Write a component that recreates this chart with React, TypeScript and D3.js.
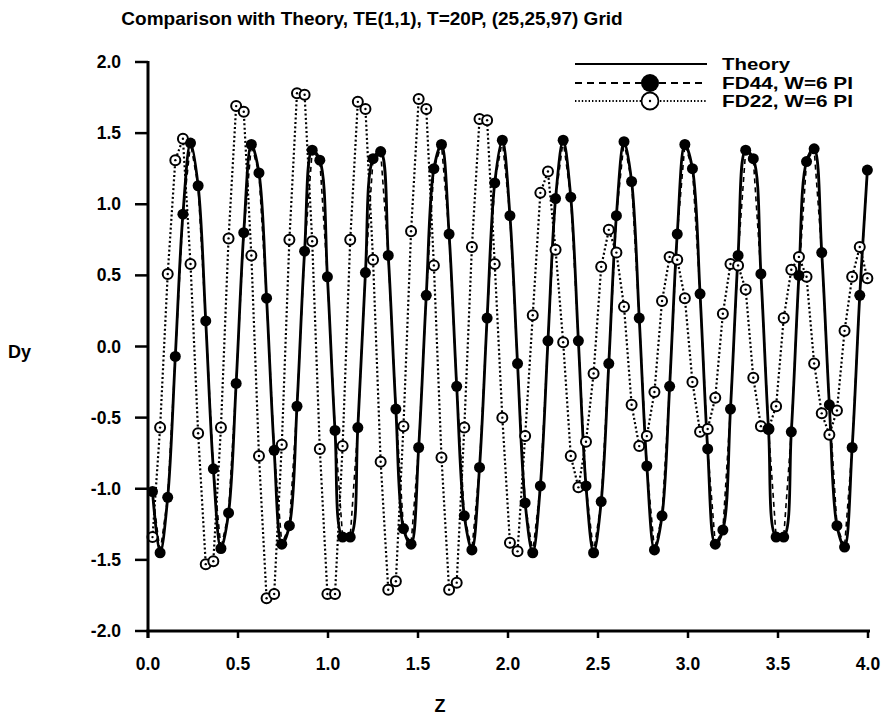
import React from "react";
import * as d3 from "d3";

// Z grid of the finite-difference samples
const Z0 = 0.025;
const DZ = 0.04225;

// Theory curve (read at the sample locations)
const THEORY = [
  -1.02, -1.45, -1.06, -0.07, 0.93, 1.43, 1.13, 0.18, -0.86, -1.42,
  -1.17, -0.26, 0.80, 1.42, 1.22, 0.34, -0.73, -1.39, -1.26, -0.42,
  0.67, 1.38, 1.31, 0.49, -0.59, -1.34, -1.34, -0.57, 0.52, 1.32,
  1.37, 0.64, -0.44, -1.28, -1.39, -0.71, 0.36, 1.25, 1.42, 0.79,
  -0.28, -1.19, -1.43, -0.85, 0.20, 1.15, 1.45, 0.92, -0.12, -1.10,
  -1.45, -0.98, 0.04, 1.04, 1.45, 1.05, 0.04, -0.98, -1.45, -1.09,
  -0.12, 0.92, 1.44, 1.16, 0.20, -0.84, -1.43, -1.19, -0.28, 0.79,
  1.42, 1.25, 0.37, -0.72, -1.39, -1.29, -0.44, 0.64, 1.38, 1.32,
  0.51, -0.58, -1.34, -1.34, -0.60, 0.50, 1.30, 1.39, 0.66, -0.41,
  -1.26, -1.41, -0.71, 0.36, 1.24,
];

// FD44, W=6 PI (filled circles)
const FD44 = [
  -1.02, -1.45, -1.06, -0.07, 0.93, 1.43, 1.13, 0.18, -0.86, -1.42,
  -1.17, -0.26, 0.80, 1.42, 1.22, 0.34, -0.73, -1.39, -1.26, -0.42,
  0.67, 1.38, 1.31, 0.49, -0.59, -1.34, -1.34, -0.57, 0.52, 1.32,
  1.37, 0.64, -0.44, -1.28, -1.39, -0.71, 0.36, 1.25, 1.42, 0.79,
  -0.28, -1.19, -1.43, -0.85, 0.20, 1.15, 1.45, 0.92, -0.12, -1.10,
  -1.45, -0.98, 0.04, 1.04, 1.45, 1.05, 0.04, -0.98, -1.45, -1.09,
  -0.12, 0.92, 1.44, 1.16, 0.20, -0.84, -1.43, -1.19, -0.28, 0.79,
  1.42, 1.25, 0.37, -0.72, -1.39, -1.29, -0.44, 0.64, 1.38, 1.32,
  0.51, -0.58, -1.34, -1.34, -0.60, 0.50, 1.30, 1.39, 0.66, -0.41,
  -1.26, -1.41, -0.71, 0.36, 1.24,
];

// FD22, W=6 PI (open circles)
const FD22 = [
  -1.34, -0.57, 0.51, 1.31, 1.46, 0.58, -0.61, -1.53, -1.51, -0.57,
  0.76, 1.69, 1.65, 0.64, -0.77, -1.77, -1.74, -0.69, 0.75, 1.78,
  1.77, 0.74, -0.72, -1.74, -1.74, -0.70, 0.75, 1.72, 1.67, 0.61,
  -0.81, -1.71, -1.65, -0.56, 0.81, 1.74, 1.67, 0.57, -0.78, -1.71,
  -1.66, -0.57, 0.70, 1.60, 1.59, 0.58, -0.50, -1.38, -1.44, -0.63,
  0.22, 1.08, 1.23, 0.68, 0.03, -0.77, -0.99, -0.67, -0.19, 0.56,
  0.82, 0.66, 0.28, -0.41, -0.70, -0.63, -0.32, 0.32, 0.63, 0.61,
  0.34, -0.25, -0.60, -0.58, -0.36, 0.23, 0.58, 0.57, 0.40, -0.22,
  -0.56, -0.58, -0.42, 0.20, 0.54, 0.63, 0.49, -0.12, -0.47, -0.62,
  -0.45, 0.11, 0.49, 0.70, 0.48,
];

const X_TICKS = [0, 0.5, 1, 1.5, 2, 2.5, 3, 3.5, 4];
const Y_TICKS = [-2, -1.5, -1, -0.5, 0, 0.5, 1, 1.5, 2];

const TITLE = "Comparison with Theory, TE(1,1), T=20P, (25,25,97) Grid";
const LEGEND = ["Theory", "FD44, W=6 PI", "FD22, W=6 PI"];
const LEGEND_WIDTHS = [68, 131, 131];

const FONT = "'Liberation Sans', Arial, Helvetica, sans-serif";

export default function App() {
  const W = 890;
  const H = 719;
  const x = d3.scaleLinear().domain([0, 4]).range([148, 868]);
  const y = d3.scaleLinear().domain([-2, 2]).range([631, 62]);

  const pts = (arr: number[]) => arr.map((v, i) => [Z0 + i * DZ, v] as [number, number]);
  const theoryPts = pts(THEORY);
  const fd44Pts = pts(FD44);
  const fd22Pts = pts(FD22);

  const smooth = d3
    .line<[number, number]>()
    .x((d) => x(d[0]))
    .y((d) => y(d[1]))
    .curve(d3.curveCatmullRom.alpha(0.5));
  const straight = d3
    .line<[number, number]>()
    .x((d) => x(d[0]))
    .y((d) => y(d[1]));

  const lx0 = 575;
  const lx1 = 707;
  const lm = 650;
  const rows = [64, 83, 101];
  const fmt = (t: number) => t.toFixed(1);

  return (
    <svg
      width={W}
      height={H}
      style={{ position: "absolute", left: 0, top: 0, background: "#fff" }}
      fontFamily={FONT}
    >
      <rect x={0} y={0} width={W} height={H} fill="#fff" />
      <text x={372} y={25} textAnchor="middle" fontSize={19} fontWeight="bold">
        {TITLE}
      </text>

      {/* data */}
      <path d={straight(fd22Pts) || ""} fill="none" stroke="#000" strokeWidth={2.2} strokeDasharray="2,2.4" />
      <path d={straight(fd44Pts) || ""} fill="none" stroke="#000" strokeWidth={1.6} strokeDasharray="5,4" />
      <path d={smooth(theoryPts) || ""} fill="none" stroke="#000" strokeWidth={2.8} />
      {fd22Pts.map((d, i) => (
        <g key={"o" + i}>
          <circle cx={x(d[0])} cy={y(d[1])} r={5} fill="#fff" stroke="#000" strokeWidth={2} />
          <circle cx={x(d[0])} cy={y(d[1])} r={1.2} fill="#000" />
        </g>
      ))}
      {fd44Pts.map((d, i) => (
        <circle key={"f" + i} cx={x(d[0])} cy={y(d[1])} r={5.5} fill="#000" />
      ))}

      {/* axes */}
      <line x1={x(0)} x2={x(0)} y1={y(2) - 1} y2={y(-2) + 7} stroke="#000" strokeWidth={3} />
      <line x1={x(0) - 1.5} x2={x(4) + 2} y1={y(-2)} y2={y(-2)} stroke="#000" strokeWidth={3} />
      {Y_TICKS.map((t) => (
        <g key={"y" + t}>
          <line x1={x(0) - 13} x2={x(0)} y1={y(t)} y2={y(t)} stroke="#000" strokeWidth={2.5} />
          <text x={121} y={y(t) + 6} textAnchor="end" fontSize={17.5} fontWeight="bold">
            {fmt(t)}
          </text>
        </g>
      ))}
      {X_TICKS.map((t) => (
        <g key={"x" + t}>
          <line x1={x(t)} x2={x(t)} y1={y(-2)} y2={y(-2) + 7} stroke="#000" strokeWidth={2.5} />
          <text x={x(t)} y={670} textAnchor="middle" fontSize={17.5} fontWeight="bold">
            {fmt(t)}
          </text>
        </g>
      ))}
      <text x={8} y={358} fontSize={18} fontWeight="bold">Dy</text>
      <text x={440} y={712} textAnchor="middle" fontSize={18} fontWeight="bold">Z</text>

      {/* legend */}
      <line x1={lx0} x2={lx1} y1={rows[0]} y2={rows[0]} stroke="#000" strokeWidth={2.2} />
      <line x1={lx0} x2={lx1} y1={rows[1]} y2={rows[1]} stroke="#000" strokeWidth={2} strokeDasharray="7,5" />
      <circle cx={lm} cy={rows[1]} r={9} fill="#000" />
      <line x1={lx0} x2={lx1} y1={rows[2]} y2={rows[2]} stroke="#000" strokeWidth={1.8} strokeDasharray="1.4,2" />
      <circle cx={lm} cy={rows[2]} r={8.5} fill="#fff" stroke="#000" strokeWidth={1.8} />
      <circle cx={lm} cy={rows[2]} r={1.2} fill="#000" />
      {LEGEND.map((s, i) => (
        <text
          key={s}
          x={722}
          y={rows[i] + 6}
          fontSize={17}
          fontWeight="bold"
          textLength={LEGEND_WIDTHS[i]}
          lengthAdjust="spacingAndGlyphs"
        >
          {s}
        </text>
      ))}
    </svg>
  );
}
